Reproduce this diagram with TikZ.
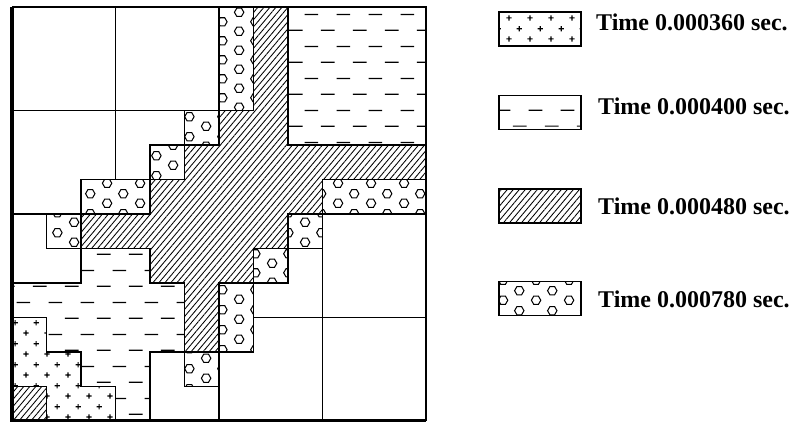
\documentclass[tikz,border=0pt]{standalone}
\usepackage{fontspec}
\setmainfont{Liberation Serif}
\usetikzlibrary{patterns,patterns.meta}

\pgfdeclarepattern{
  name=hexdots, type=uncolored,
  bottom left={\pgfpoint{0pt}{0pt}},
  top right={\pgfpoint{33pt}{19.4pt}},
  tile size={\pgfpoint{33pt}{19.4pt}},
  code={
    \pgfsetlinewidth{1.05pt}
    \pgfpathmoveto{\pgfpoint{13.05pt}{4.85pt}}
    \pgfpathlineto{\pgfpoint{10.65pt}{9.01pt}}
    \pgfpathlineto{\pgfpoint{5.85pt}{9.01pt}}
    \pgfpathlineto{\pgfpoint{3.45pt}{4.85pt}}
    \pgfpathlineto{\pgfpoint{5.85pt}{0.69pt}}
    \pgfpathlineto{\pgfpoint{10.65pt}{0.69pt}}
    \pgfpathclose
    \pgfpathmoveto{\pgfpoint{29.55pt}{14.55pt}}
    \pgfpathlineto{\pgfpoint{27.15pt}{18.71pt}}
    \pgfpathlineto{\pgfpoint{22.35pt}{18.71pt}}
    \pgfpathlineto{\pgfpoint{19.95pt}{14.55pt}}
    \pgfpathlineto{\pgfpoint{22.35pt}{10.39pt}}
    \pgfpathlineto{\pgfpoint{27.15pt}{10.39pt}}
    \pgfpathclose
    \pgfusepath{stroke}
  }
}

\pgfdeclarepattern{
  name=plusdots, type=uncolored,
  bottom left={\pgfpoint{0pt}{0pt}},
  top right={\pgfpoint{21pt}{21pt}},
  tile size={\pgfpoint{21pt}{21pt}},
  code={
    \pgfsetlinewidth{1.2pt}
    \pgfpathmoveto{\pgfpoint{2.55pt}{5.25pt}}\pgfpathlineto{\pgfpoint{7.95pt}{5.25pt}}
    \pgfpathmoveto{\pgfpoint{5.25pt}{2.55pt}}\pgfpathlineto{\pgfpoint{5.25pt}{7.95pt}}
    \pgfpathmoveto{\pgfpoint{13.05pt}{15.75pt}}\pgfpathlineto{\pgfpoint{18.45pt}{15.75pt}}
    \pgfpathmoveto{\pgfpoint{15.75pt}{13.05pt}}\pgfpathlineto{\pgfpoint{15.75pt}{18.45pt}}
    \pgfusepath{stroke}
  }
}

\pgfdeclarepattern{
  name=dashrows, type=uncolored,
  bottom left={\pgfpoint{0pt}{0pt}},
  top right={\pgfpoint{32pt}{32pt}},
  tile size={\pgfpoint{32pt}{32pt}},
  code={
    \pgfsetlinewidth{1.25pt}
    \pgfpathmoveto{\pgfpoint{1pt}{8pt}}\pgfpathlineto{\pgfpoint{15pt}{8pt}}
    \pgfpathmoveto{\pgfpoint{17pt}{24pt}}\pgfpathlineto{\pgfpoint{31pt}{24pt}}
    \pgfusepath{stroke}
  }
}

\tikzset{
  hatchfill/.style={pattern={Lines[angle=50,distance=4.6pt,line width=0.85pt]}},
  hexfill/.style={pattern=hexdots},
  plusfill/.style={pattern=plusdots},
  dashfill/.style={pattern=dashrows},
  cell/.style={draw=black, line width=1.1pt},
  legbox/.style={draw=black, line width=1.1pt, minimum width=82pt, minimum height=34pt, inner sep=0pt},
  legtext/.style={anchor=base west, inner sep=0pt, font=\fontsize{24}{28}\selectfont\bfseries},
}

\begin{document}
\begin{tikzpicture}[x=1pt,y=1pt]
\useasboundingbox (0,0) rectangle (803,422);
\fill[white] (0,0) rectangle (803,422);

\begin{scope}[shift={(12pt,415pt)}, x=34.5pt, y=-34.5pt]
  % hatched region (0.000480)
  \path[hatchfill, cell] (7,0)--(8,0)--(8,4)--(12,4)--(12,5)--(9,5)--(9,6)--(8,6)--(8,7)--(7,7)--(7,8)--(6,8)--(6,10)--(5,10)--(5,8)--(4,8)--(4,7)--(2,7)--(2,6)--(4,6)--(4,5)--(5,5)--(5,4)--(6,4)--(6,3)--(7,3)--cycle;
  \path[hatchfill, cell] (0,11) rectangle (1,12);
  % dashed regions (0.000400)
  \path[dashfill, cell] (8,0) rectangle (12,4);
  \path[dashfill, cell] (2,7)--(4,7)--(4,8)--(5,8)--(5,10)--(4,10)--(4,12)--(3,12)--(3,11)--(2,11)--(2,10)--(1,10)--(1,9)--(0,9)--(0,8)--(2,8)--cycle;
  % plus region (0.000360)
  \path[plusfill, cell] (0,9)--(1,9)--(1,10)--(2,10)--(2,11)--(3,11)--(3,12)--(1,12)--(1,11)--(0,11)--cycle;
  % hexagon cells (0.000780)
  \path[hexfill, cell] (6,0) rectangle (7,3);
  \path[hexfill, cell] (5,3) rectangle (6,4);
  \path[hexfill, cell] (4,4) rectangle (5,5);
  \path[hexfill, cell] (2,5) rectangle (4,6);
  \path[hexfill, cell] (1,6) rectangle (2,7);
  \path[hexfill, cell] (9,5) rectangle (12,6);
  \path[hexfill, cell] (8,6) rectangle (9,7);
  \path[hexfill, cell] (7,7) rectangle (8,8);
  \path[hexfill, cell] (6,8) rectangle (7,10);
  \path[hexfill, cell] (5,10) rectangle (6,11);
  % white cell boundaries
  \draw[cell] (3,0)--(3,5);
  \draw[cell] (0,3)--(5,3);
  \draw[cell] (0,6)--(2,6);
  \draw[cell] (2,6)--(2,8);
  \draw[cell] (4,10)--(5,10);
  \draw[cell] (4,10)--(4,12);
  \draw[cell] (6,10)--(6,12);
  \draw[cell] (9,6)--(9,12);
  \draw[cell] (7,9)--(12,9);
  % frame
  \draw[cell] (0,0)--(12,0)--(12,12);
  \draw[line width=3.5pt] (0,0)--(0,12)--(12,12);
\end{scope}

% legend
\node[legbox, plusfill] (lb1) at (540,393) {};
\node[legbox, dashfill] (lb2) at (540,309.5) {};
\node[legbox, hatchfill] (lb3) at (540,216) {};
\node[legbox, hexfill] (lb4) at (540,123.5) {};
\node[legtext] (lt1) at (596,391) {Time 0.000360 sec.};
\node[legtext] (lt2) at (598,307.5) {Time 0.000400 sec.};
\node[legtext] (lt3) at (598,207) {Time 0.000480 sec.};
\node[legtext] (lt4) at (598,114) {Time 0.000780 sec.};
\end{tikzpicture}
\end{document}
